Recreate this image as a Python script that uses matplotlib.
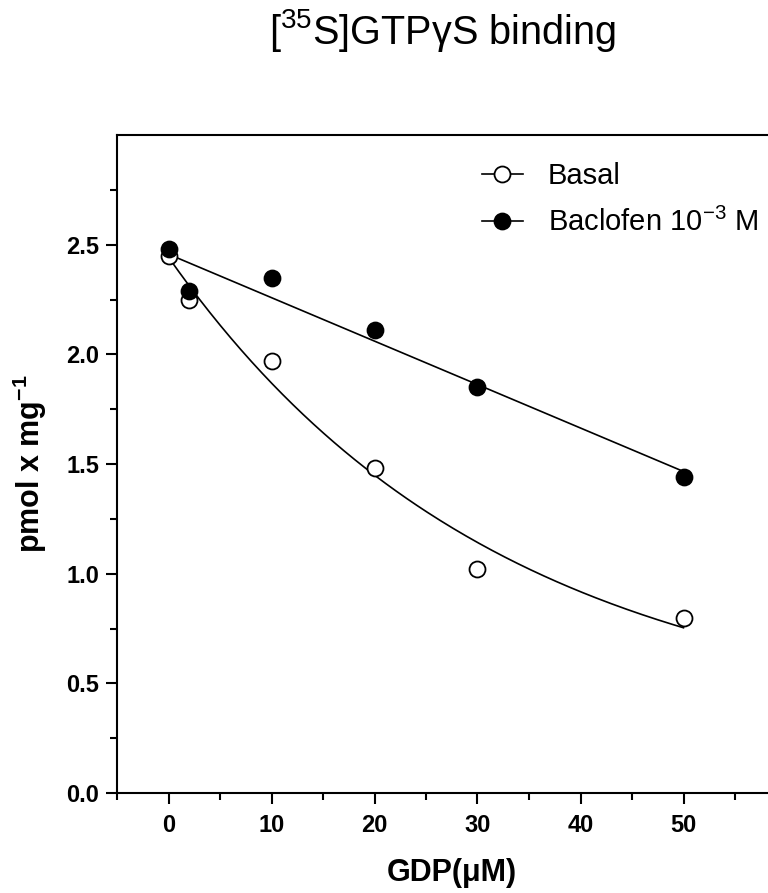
import matplotlib
matplotlib.use("Agg")
import matplotlib.pyplot as plt
from matplotlib.ticker import MultipleLocator
import numpy as np

plt.rcParams["font.family"] = ["Liberation Sans", "DejaVu Sans"]
plt.rcParams["mathtext.fontset"] = "custom"
plt.rcParams["mathtext.rm"] = "Liberation Sans"
plt.rcParams["mathtext.bf"] = "Liberation Sans:bold"

gdp = [0, 2, 10, 20, 30, 50]
basal = [2.45, 2.25, 1.97, 1.48, 1.02, 0.80]
baclofen = [2.48, 2.29, 2.35, 2.11, 1.85, 1.44]

x = np.array(gdp, dtype=float)

# one-phase decay fit for basal (grid over rate, linear lstsq for the rest)
best = None
for k in np.linspace(0.001, 0.2, 2000):
    A = np.column_stack([np.exp(-k * x), np.ones_like(x)])
    coef, res, _, _ = np.linalg.lstsq(A, np.array(basal), rcond=None)
    err = np.sum((A @ coef - np.array(basal)) ** 2)
    if best is None or err < best[0]:
        best = (err, k, coef)
_, k_fit, c_fit = best
xs = np.linspace(0, 50, 200)
basal_fit = c_fit[0] * np.exp(-k_fit * xs) + c_fit[1]

# straight line fit for baclofen
slope, icpt = np.polyfit(x, baclofen, 1)
bac_fit = slope * xs + icpt

fig = plt.figure(figsize=(7.68, 8.93), dpi=100)
ax = fig.add_axes([117 / 768, 100 / 893, 669.5 / 768, 658 / 893])

ax.plot(xs, basal_fit, color="black", lw=1.2, zorder=2)
ax.plot(xs, bac_fit, color="black", lw=1.2, zorder=2)
ax.plot(gdp, basal, "o", ms=11.5, mfc="white", mec="black", mew=1.3,
        zorder=3)
ax.plot(gdp, baclofen, "o", ms=11.5, mfc="black", mec="black", mew=1.3,
        zorder=4)

# legend handles
h1, = ax.plot([], [], "-o", color="black", lw=1.2, ms=11.5, mfc="white",
              mec="black", mew=1.3)
h2, = ax.plot([], [], "-o", color="black", lw=1.2, ms=11.5, mfc="black",
              mec="black", mew=1.3)
fig.legend([h1, h2], ["Basal", "Baclofen 10$^{-3}$ M"],
           loc="upper left", bbox_to_anchor=(482 / 768, 1 - 162 / 893),
           frameon=False, fontsize=21, handlelength=1.4,
           handletextpad=0.85, labelspacing=0.62, borderpad=0,
           borderaxespad=0)

ax.set_xlim(-5, 60)
ax.set_ylim(0, 3.0)
ax.set_xticks([0, 10, 20, 30, 40, 50])
ax.set_yticks([0.0, 0.5, 1.0, 1.5, 2.0, 2.5])
ax.set_yticklabels(["0.0", "0.5", "1.0", "1.5", "2.0", "2.5"])
ax.xaxis.set_minor_locator(MultipleLocator(5))
ax.set_yticks(np.arange(0.25, 2.8, 0.5), minor=True)

for s in ["left", "bottom", "top", "right"]:
    ax.spines[s].set_linewidth(1.5)

ax.tick_params(which="major", direction="out", length=8, width=1.5,
               labelsize=17, pad=5)
ax.tick_params(which="minor", direction="out", length=5, width=1.5)
ax.tick_params(axis="x", which="major", pad=7)
for lab in ax.get_xticklabels() + ax.get_yticklabels():
    lab.set_fontweight("bold")

ax.set_xlabel("GDP(\u03bcM)", fontsize=22, fontweight="bold", labelpad=15)
ax.set_ylabel(r"pmol x mg$^{\mathbf{-1}}$", fontsize=22, fontweight="bold",
              labelpad=12)

fig.text(442 / 768, 1 - 30 / 893, "[$^{35}$S]GTP\u03b3S binding",
         fontsize=28.5, ha="center", va="center")

fig.savefig("out.png", dpi=100)
plt.close(fig)
